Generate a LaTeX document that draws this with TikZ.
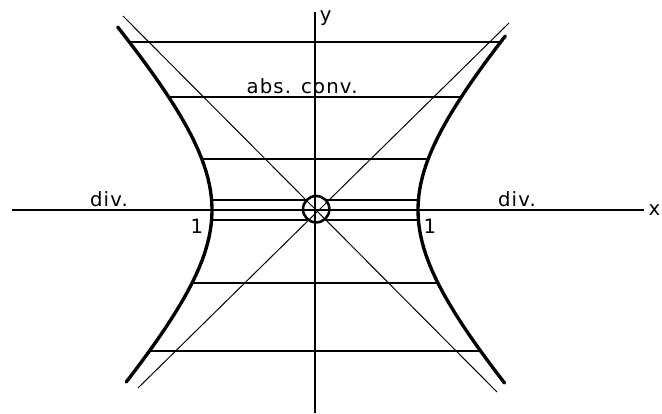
\documentclass[tikz,border=0pt]{standalone}
\usepackage{fontspec}
\setsansfont{DejaVu Sans}[LetterSpace=6]

\begin{document}
\begin{tikzpicture}[
    x=1cm,
    y=1cm,
    font=\sffamily\fontsize{14}{16}\selectfont,
    axis/.style={draw=black, line width=0.9pt},
    asym/.style={draw=black, line width=0.7pt},
    level/.style={draw=black, line width=1.3pt},
    branch/.style={draw=black, line width=2.4pt, line cap=round},
    lbl/.style={inner sep=0pt, text=black}
]

% Fixed frame keeps the page at the proportions of the figure.
\useasboundingbox[fill=white] (-7.875,-5.075) rectangle (8.675,5.25);

% Coordinate axes.
\coordinate (xstart) at (-7.575,0);
\coordinate (ystart) at (0,-5.075);
\node[lbl, anchor=east] (xlab) at (8.64,0) {x};
\node[lbl] (ylab) at (0.27,4.80) {y};
\draw[axis, shorten >=0.1cm] (xstart) -- (xlab.west);
\draw[axis] (ystart) -- (0,4.95);

% Asymptotic diagonals through the origin.
\draw[asym] (-4.80,4.85) -- (4.55,-4.55);
\draw[asym] (4.85,4.675) -- (-4.425,-4.45);

% Both branches of the boundary curve.
\draw[branch] plot[domain=-4.30:4.575, samples=60, variable=\t]
      ({-2.575*sqrt(1+(\t/2.8)^2)},\t);
\draw[branch] plot[domain=-4.325:4.35, samples=60, variable=\t]
      ({2.575*sqrt(1+(\t/2.8)^2)},\t);

% Horizontal sections run from branch to branch.
\foreach \yy in {4.2,2.825,1.275,-1.825,-3.525} {
    \pgfmathsetmacro{\xe}{2.575*sqrt(1+(\yy/2.8)^2)}
    \draw[level] (-\xe,\yy) -- (\xe,\yy);
}

% Small circle at the origin.
\node[draw, circle, line width=1.8pt, minimum size=0.66cm, inner sep=0pt]
      (origin) at (0.03,0.02) {};

% The two sections next to the axis stop at the circle.
\foreach \yy in {0.25,-0.25} {
    \pgfmathsetmacro{\xe}{2.575*sqrt(1+(\yy/2.8)^2)}
    \draw[level] (-\xe,\yy) -- (-0.19,\yy);
    \draw[level] (0.25,\yy) -- (\xe,\yy);
}

% Region and vertex labels.
\node[lbl, anchor=base] (absconv) at (-0.325,2.925) {abs. conv.};
\node[lbl, anchor=base] (divleft) at (-5.15,0.10) {div.};
\node[lbl, anchor=base] (divright) at (5.05,0.10) {div.};
\node[lbl] (oneleft) at (-2.95,-0.40) {1};
\node[lbl] (oneright) at (2.875,-0.40) {1};
\end{tikzpicture}
\end{document}
